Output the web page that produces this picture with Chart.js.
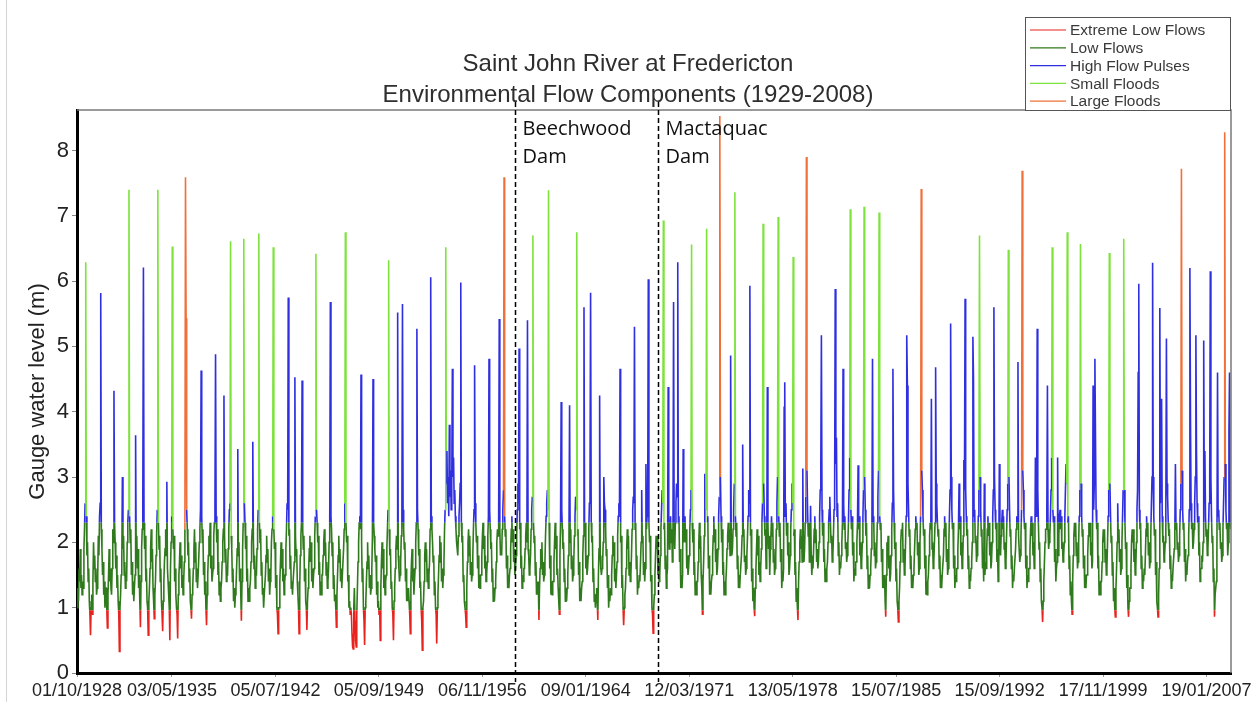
<!DOCTYPE html>
<html>
<head>
<title>Saint John River at Fredericton</title>
<style>
  html, body { margin: 0; padding: 0; background: #fff; }
  .chart-container { position: relative; width: 1257px; height: 702px; }
</style>
</head>
<body>
<div class="chart-container">
<canvas id="mycanvas" width="1257" height="702"></canvas>
</div>

<script src="https://cdn.jsdelivr.net/npm/chart.js@4.4.1/dist/chart.umd.min.js"></script>
<script>
// gauge level (m), one row per water year, half-months Oct..Sep
var wy1929_1938 = [
  [1.0, 1.3, 1.1, 1.6, 1.4, 1.9, 1.3, 1.5, 1.2, 1.4, 1.3, 1.9, 2.2, 2.6, 6.29, 2.4, 1.8, 2.0, 1.4, 1.6, 1.1, 0.9, 0.58, 1.0],
  [1.2, 0.9, 1.4, 2.0, 1.6, 1.8, 1.4, 1.6, 1.2, 1.3, 1.5, 2.1, 1.8, 2.4, 2.6, 5.82, 2.2, 1.9, 1.5, 1.7, 1.2, 1.4, 1.0, 1.3],
  [1.3, 1.0, 0.69, 1.2, 1.5, 1.9, 1.4, 1.6, 1.3, 1.2, 1.6, 2.2, 2.0, 4.32, 2.3, 2.0, 1.6, 1.8, 1.3, 1.5, 1.1, 0.9, 0.33, 1.0],
  [1.2, 1.5, 1.7, 3.0, 1.9, 2.1, 1.5, 1.7, 1.3, 1.5, 1.4, 2.0, 2.3, 2.5, 7.40, 2.4, 2.0, 2.2, 1.5, 1.7, 1.2, 1.4, 1.1, 1.3],
  [1.5, 3.64, 1.8, 2.1, 1.6, 1.9, 1.3, 1.5, 1.1, 0.7, 1.4, 1.9, 2.2, 2.6, 6.21, 2.3, 1.9, 2.1, 1.4, 1.6, 1.1, 1.0, 0.58, 1.1],
  [1.3, 1.6, 1.9, 2.2, 1.7, 1.9, 1.3, 1.1, 0.83, 1.2, 1.4, 1.8, 2.1, 2.5, 7.40, 2.3, 1.9, 2.1, 1.4, 1.6, 1.1, 0.9, 0.64, 1.1],
  [1.4, 1.7, 1.9, 2.2, 1.8, 2.93, 1.6, 1.4, 1.2, 1.0, 0.5, 1.6, 2.0, 2.4, 6.53, 2.2, 1.9, 2.1, 1.4, 1.6, 1.2, 1.0, 0.9, 0.53],
  [1.2, 1.5, 1.7, 2.0, 1.6, 1.8, 1.3, 1.5, 1.2, 1.4, 1.7, 2.2, 7.59, 5.43, 2.5, 2.2, 1.8, 2.0, 1.4, 1.6, 1.1, 1.0, 0.83, 1.2],
  [1.3, 1.6, 1.9, 2.2, 1.7, 2.0, 1.4, 1.6, 1.3, 1.5, 1.5, 2.0, 2.2, 2.5, 4.63, 2.4, 2.0, 2.2, 1.5, 1.7, 1.2, 1.4, 1.0, 0.73],
  [1.2, 1.5, 1.8, 2.1, 1.9, 2.3, 1.6, 1.8, 1.4, 1.5, 1.6, 2.1, 2.3, 2.6, 4.88, 2.4, 2.0, 2.2, 1.5, 1.7, 1.2, 1.4, 1.1, 1.3]
];
var wy1939_1948 = [
  [1.4, 1.7, 2.0, 2.2, 4.25, 2.1, 1.7, 1.9, 1.4, 1.5, 1.5, 1.9, 2.2, 2.5, 2.6, 6.61, 2.1, 1.9, 1.4, 1.6, 1.1, 1.3, 1.0, 1.2],
  [1.3, 1.6, 1.9, 3.43, 1.8, 2.0, 1.4, 1.6, 1.2, 0.8, 1.4, 1.9, 2.3, 6.65, 2.6, 2.3, 1.9, 2.1, 1.4, 1.6, 1.1, 1.3, 1.1, 1.3],
  [1.4, 1.7, 2.0, 2.2, 3.54, 2.0, 1.6, 1.8, 1.3, 1.5, 1.5, 1.9, 2.2, 2.5, 6.73, 2.3, 2.0, 2.2, 1.5, 1.7, 1.2, 1.3, 1.0, 1.2],
  [1.2, 1.5, 1.8, 2.1, 1.7, 1.9, 1.4, 1.6, 1.2, 1.4, 1.5, 2.0, 2.2, 2.4, 6.52, 2.2, 1.9, 2.0, 1.3, 1.5, 1.0, 0.9, 0.6, 1.0],
  [1.0, 1.4, 1.7, 2.0, 1.6, 1.9, 1.4, 1.6, 1.2, 1.4, 1.5, 1.9, 2.2, 2.6, 2.5, 5.75, 2.1, 2.2, 1.6, 1.8, 1.3, 1.4, 1.2, 1.4],
  [1.4, 1.7, 4.53, 2.1, 1.8, 1.9, 1.4, 1.2, 1.0, 0.6, 1.3, 1.8, 2.1, 2.3, 4.48, 2.2, 1.9, 2.1, 1.4, 1.6, 1.1, 1.0, 0.66, 1.1],
  [1.3, 1.6, 1.9, 2.1, 1.7, 2.0, 1.4, 1.6, 1.3, 1.5, 1.6, 2.1, 2.4, 6.42, 2.5, 2.3, 2.0, 2.1, 1.5, 1.7, 1.2, 1.4, 1.2, 1.5],
  [1.5, 1.8, 2.0, 2.2, 1.8, 2.0, 1.5, 1.7, 1.3, 1.4, 1.6, 2.0, 2.3, 5.68, 2.4, 2.2, 1.8, 2.0, 1.3, 1.5, 1.1, 1.2, 1.0, 0.7],
  [1.2, 1.5, 1.8, 2.1, 1.7, 1.9, 1.4, 1.6, 1.3, 1.5, 1.5, 1.9, 2.2, 2.6, 6.75, 2.3, 2.0, 2.1, 1.4, 1.5, 1.0, 1.1, 0.9, 1.0],
  [0.9, 0.6, 0.4, 0.37, 1.0, 1.3, 0.8, 0.5, 0.4, 0.9, 1.3, 1.7, 2.0, 2.3, 2.4, 2.2, 4.57, 2.0, 1.4, 1.6, 1.0, 0.8, 0.43, 1.0]
];
var wy1949_1958 = [
  [1.1, 1.4, 1.7, 2.0, 1.6, 1.8, 1.3, 1.5, 1.2, 1.3, 1.6, 2.1, 4.50, 2.3, 2.1, 1.9, 1.7, 1.8, 1.2, 1.4, 1.0, 1.1, 0.9, 1.0],
  [0.5, 1.3, 1.7, 2.0, 1.6, 1.9, 1.3, 1.5, 1.2, 1.4, 1.5, 1.9, 2.2, 2.5, 6.32, 2.2, 1.8, 1.9, 1.3, 1.4, 1.0, 0.9, 0.5, 1.1],
  [1.3, 1.6, 1.9, 2.1, 1.9, 5.52, 1.8, 1.6, 1.4, 1.5, 1.7, 2.1, 2.4, 5.65, 2.5, 2.2, 1.9, 2.0, 1.4, 1.6, 1.1, 1.3, 1.1, 1.3],
  [1.1, 0.9, 0.6, 1.4, 1.7, 1.9, 1.4, 1.6, 1.2, 1.4, 1.6, 2.0, 2.3, 5.27, 2.5, 2.2, 1.8, 1.9, 1.3, 1.4, 1.0, 0.8, 0.35, 1.0],
  [1.1, 1.4, 1.8, 2.0, 1.7, 1.9, 1.4, 1.6, 1.3, 1.5, 1.7, 2.2, 6.06, 2.4, 2.2, 2.0, 1.7, 1.8, 1.2, 1.4, 1.0, 0.9, 0.45, 1.0],
  [1.2, 1.5, 1.8, 2.1, 1.7, 2.0, 1.4, 1.6, 1.3, 1.5, 1.7, 2.2, 2.5, 6.52, 2.9, 3.4, 2.6, 3.0, 2.4, 3.8, 2.7, 3.1, 2.5, 2.9],
  [4.66, 3.0, 3.3, 2.6, 2.8, 2.4, 2.2, 2.0, 1.9, 1.8, 2.1, 2.4, 2.6, 2.9, 5.98, 2.3, 2.0, 2.1, 1.4, 1.5, 1.1, 1.0, 0.9, 0.7],
  [1.3, 1.7, 2.0, 2.2, 1.8, 2.1, 1.5, 1.7, 1.4, 1.5, 1.8, 2.2, 2.5, 4.71, 2.6, 2.3, 2.0, 2.1, 1.6, 1.8, 1.3, 1.5, 1.3, 1.5],
  [1.5, 1.8, 2.1, 2.3, 1.9, 2.1, 1.6, 1.8, 1.4, 1.5, 1.7, 2.1, 2.4, 4.81, 2.5, 2.2, 1.9, 2.0, 1.4, 1.6, 1.1, 1.3, 1.1, 1.3],
  [1.4, 1.7, 2.0, 2.2, 2.1, 2.3, 5.42, 2.2, 1.8, 1.9, 1.8, 2.2, 2.5, 2.8, 7.59, 2.4, 2.1, 2.2, 1.6, 1.8, 1.3, 1.5, 1.3, 1.5]
];
var wy1959_1968 = [
  [1.6, 1.9, 2.2, 2.4, 2.0, 2.2, 1.7, 1.9, 1.5, 1.6, 1.8, 2.1, 2.5, 2.9, 2.6, 4.97, 2.2, 2.3, 1.6, 1.8, 1.3, 1.5, 1.4, 1.6],
  [1.6, 1.9, 2.1, 2.3, 2.0, 5.40, 1.9, 1.8, 1.5, 1.6, 1.8, 2.2, 2.5, 2.7, 6.70, 2.3, 2.0, 2.1, 1.5, 1.7, 1.2, 1.4, 1.2, 1.4],
  [0.81, 1.3, 1.6, 1.9, 1.8, 2.0, 1.5, 1.7, 1.4, 1.5, 1.7, 2.1, 2.4, 2.6, 2.8, 2.5, 7.39, 2.3, 1.6, 1.8, 1.2, 1.4, 1.2, 1.4],
  [1.4, 1.7, 2.0, 2.3, 1.9, 2.1, 1.5, 1.6, 1.3, 1.1, 0.9, 1.8, 2.3, 4.15, 2.5, 2.2, 1.9, 2.0, 1.4, 1.6, 1.1, 1.3, 1.1, 1.3],
  [1.5, 1.8, 2.1, 4.10, 2.0, 2.2, 1.6, 1.8, 1.4, 1.5, 1.7, 2.1, 2.4, 2.7, 2.5, 6.75, 2.1, 2.2, 1.5, 1.7, 1.1, 1.3, 1.1, 1.3],
  [1.4, 1.8, 2.1, 5.60, 2.2, 2.3, 1.6, 1.8, 1.5, 1.6, 1.8, 2.2, 2.6, 2.9, 5.82, 2.3, 2.0, 2.1, 1.4, 1.6, 1.1, 1.2, 1.0, 1.2],
  [1.3, 1.1, 0.81, 1.5, 1.9, 4.25, 1.8, 1.6, 1.5, 1.6, 1.7, 2.0, 3.0, 2.6, 2.5, 2.2, 1.8, 1.9, 1.3, 1.5, 1.0, 1.2, 1.1, 1.3],
  [1.2, 1.5, 1.8, 2.1, 1.8, 2.0, 1.4, 1.6, 1.3, 1.5, 1.7, 2.1, 2.4, 2.6, 2.5, 4.66, 2.0, 2.1, 1.3, 1.5, 1.0, 0.73, 1.0, 1.2],
  [1.3, 1.6, 1.9, 2.2, 1.9, 2.1, 1.5, 1.7, 1.4, 1.5, 1.8, 2.2, 2.5, 2.7, 2.6, 5.30, 2.2, 2.3, 1.6, 1.8, 1.2, 1.4, 1.3, 1.5],
  [1.4, 1.7, 2.0, 2.8, 2.0, 2.1, 1.5, 1.7, 1.4, 1.6, 3.2, 2.2, 2.4, 2.6, 6.03, 2.3, 2.0, 2.1, 1.4, 1.5, 1.0, 0.9, 0.61, 1.0]
];
var wy1969_1978 = [
  [1.2, 1.5, 1.8, 2.1, 1.9, 2.1, 1.5, 1.7, 1.4, 1.5, 1.8, 2.2, 2.5, 2.8, 2.6, 6.93, 2.2, 2.3, 1.6, 1.8, 1.3, 1.5, 1.6, 4.38],
  [2.3, 1.9, 2.1, 2.4, 2.0, 2.2, 1.7, 1.9, 5.68, 2.2, 1.9, 2.3, 2.6, 2.9, 2.7, 6.29, 2.3, 2.4, 1.7, 1.9, 1.3, 1.5, 1.3, 1.5],
  [3.43, 2.0, 2.1, 2.4, 2.0, 2.2, 1.6, 1.8, 1.5, 1.6, 1.8, 2.2, 2.5, 2.8, 6.56, 2.3, 2.0, 2.2, 1.5, 1.7, 1.2, 1.4, 1.2, 1.4],
  [1.4, 1.7, 2.0, 2.3, 1.9, 2.1, 1.5, 1.3, 0.9, 1.4, 1.7, 2.1, 3.05, 2.6, 2.5, 6.80, 2.3, 2.4, 1.6, 1.8, 1.2, 1.4, 1.2, 1.4],
  [1.5, 1.8, 2.1, 2.4, 2.0, 2.2, 1.7, 1.9, 1.5, 1.6, 1.9, 2.4, 2.7, 8.53, 3.0, 2.4, 2.0, 2.2, 1.5, 1.7, 1.2, 1.4, 1.2, 1.4],
  [1.6, 1.9, 2.1, 2.3, 2.0, 2.2, 1.8, 4.86, 1.9, 1.8, 1.9, 2.2, 2.5, 2.9, 7.36, 2.4, 2.1, 2.3, 1.6, 1.8, 1.3, 1.5, 1.3, 1.5],
  [1.5, 1.8, 2.1, 3.5, 2.1, 2.2, 1.7, 1.8, 1.5, 1.6, 1.8, 2.1, 2.4, 2.8, 2.6, 5.93, 2.1, 2.2, 1.4, 1.6, 1.1, 1.3, 1.0, 0.87],
  [1.3, 1.6, 1.9, 2.2, 1.8, 2.1, 1.5, 1.7, 1.4, 1.6, 1.9, 2.3, 2.6, 6.88, 2.9, 2.4, 2.1, 2.2, 1.6, 1.8, 4.38, 2.3, 1.9, 2.1],
  [1.5, 1.9, 2.1, 2.4, 2.1, 2.3, 1.7, 1.9, 1.5, 1.6, 1.8, 2.2, 2.6, 3.0, 6.98, 2.4, 2.1, 2.3, 1.7, 1.9, 1.3, 1.5, 1.4, 1.6],
  [4.07, 4.45, 2.4, 2.6, 2.1, 2.3, 1.8, 2.0, 1.5, 1.6, 1.8, 2.2, 2.5, 2.9, 2.6, 6.37, 2.1, 2.2, 1.5, 1.7, 1.1, 1.3, 1.0, 0.81]
];
var wy1979_1988 = [
  [1.4, 1.7, 2.0, 2.2, 1.9, 2.1, 1.7, 3.13, 1.8, 1.7, 1.9, 2.3, 2.7, 7.90, 3.1, 2.5, 2.1, 2.3, 1.7, 1.9, 2.56, 1.8, 1.5, 1.7],
  [1.6, 1.9, 2.2, 2.4, 2.0, 2.2, 1.7, 1.9, 1.6, 1.7, 2.0, 2.4, 2.8, 3.2, 5.17, 2.5, 2.1, 2.3, 1.7, 1.9, 1.4, 1.6, 1.4, 1.6],
  [1.7, 2.0, 2.3, 2.5, 2.7, 2.3, 2.0, 2.1, 1.7, 1.8, 2.1, 2.5, 2.8, 5.88, 3.2, 3.6, 2.4, 2.6, 1.8, 2.0, 1.5, 1.7, 1.6, 1.8],
  [2.0, 2.3, 4.66, 2.6, 2.2, 2.4, 1.9, 2.0, 1.7, 1.8, 2.0, 2.3, 2.8, 3.3, 7.10, 2.5, 2.2, 2.4, 1.8, 2.0, 1.4, 1.6, 1.5, 1.7],
  [1.7, 2.0, 2.3, 3.18, 2.2, 2.4, 1.8, 2.0, 1.6, 1.7, 2.0, 2.4, 2.8, 7.14, 3.0, 2.5, 2.1, 2.3, 1.6, 1.8, 1.3, 1.5, 1.3, 1.5],
  [1.6, 1.9, 2.2, 4.81, 2.3, 2.4, 1.8, 2.0, 1.6, 1.7, 1.9, 2.3, 2.7, 3.1, 7.05, 2.4, 2.2, 2.3, 1.7, 1.9, 1.3, 1.5, 1.3, 1.5],
  [1.1, 0.86, 1.5, 2.0, 1.9, 2.1, 1.6, 1.8, 1.4, 1.5, 1.8, 2.2, 2.6, 4.66, 2.8, 2.3, 1.9, 2.0, 1.4, 1.6, 1.1, 1.0, 0.78, 1.1],
  [1.3, 1.7, 2.0, 2.2, 2.1, 2.3, 1.7, 1.9, 1.5, 1.6, 2.0, 2.4, 5.17, 4.4, 2.9, 2.5, 2.1, 2.2, 1.6, 1.8, 1.3, 1.5, 1.3, 1.5],
  [1.6, 1.9, 2.2, 2.4, 2.2, 2.3, 1.8, 2.0, 1.5, 1.6, 2.0, 2.4, 7.41, 3.1, 2.8, 2.4, 2.1, 2.2, 1.6, 1.8, 1.2, 1.4, 1.2, 1.4],
  [1.5, 1.8, 2.1, 2.3, 2.2, 4.2, 1.9, 2.0, 1.6, 1.7, 2.0, 2.3, 4.68, 2.9, 2.6, 2.3, 2.1, 2.2, 1.6, 1.8, 1.3, 1.5, 1.3, 1.5]
];
var wy1989_1998 = [
  [1.5, 1.8, 2.2, 2.4, 2.1, 2.3, 1.7, 1.9, 1.5, 1.6, 2.0, 2.4, 2.8, 5.35, 3.0, 2.5, 2.2, 2.3, 1.6, 1.8, 1.3, 1.5, 1.4, 1.6],
  [1.6, 1.9, 2.2, 2.9, 2.2, 2.4, 1.8, 2.0, 1.6, 1.7, 2.1, 3.26, 2.8, 5.73, 2.8, 2.4, 2.1, 2.2, 1.6, 1.8, 1.3, 1.5, 1.4, 1.6],
  [1.7, 2.0, 5.15, 4.49, 2.4, 2.5, 2.0, 2.1, 1.7, 1.8, 2.0, 2.4, 2.8, 6.70, 3.0, 2.5, 2.1, 2.2, 1.6, 1.8, 1.4, 2.9, 1.5, 1.7],
  [1.6, 1.9, 2.2, 2.4, 2.1, 2.3, 1.8, 2.0, 1.6, 1.7, 2.0, 2.4, 2.8, 5.60, 3.0, 2.5, 2.2, 2.3, 1.7, 1.9, 1.4, 1.6, 3.2, 2.0],
  [1.8, 2.1, 2.3, 2.5, 2.2, 2.4, 1.9, 2.0, 1.6, 1.7, 2.1, 2.5, 2.9, 6.48, 3.0, 2.5, 2.1, 2.2, 1.6, 1.8, 1.3, 1.5, 1.4, 1.6],
  [1.6, 1.9, 2.2, 2.4, 2.3, 4.76, 2.1, 1.9, 1.7, 1.8, 2.1, 2.5, 7.69, 3.1, 2.8, 2.4, 2.2, 2.3, 1.6, 1.8, 1.3, 1.5, 1.4, 1.6],
  [1.6, 1.9, 2.2, 2.4, 2.1, 2.3, 1.8, 2.0, 1.6, 1.7, 3.3, 2.4, 2.7, 5.27, 2.8, 2.3, 1.9, 2.0, 1.4, 1.6, 1.1, 1.0, 0.78, 1.1],
  [1.4, 1.7, 2.0, 2.2, 2.2, 2.4, 4.4, 2.2, 1.9, 2.0, 2.1, 2.4, 2.8, 3.3, 6.52, 2.5, 2.3, 2.4, 1.7, 1.9, 1.4, 1.6, 1.7, 3.3],
  [1.8, 2.1, 2.4, 2.5, 2.2, 2.4, 1.9, 2.0, 1.7, 1.8, 2.0, 2.4, 2.8, 3.2, 2.9, 6.75, 2.3, 2.4, 1.6, 1.8, 1.2, 1.4, 1.1, 0.9],
  [1.4, 1.8, 2.1, 2.3, 2.1, 2.3, 1.8, 2.0, 1.6, 1.7, 2.0, 2.4, 2.8, 6.57, 2.9, 2.4, 2.1, 2.2, 1.6, 1.8, 1.3, 1.5, 1.3, 1.5]
];
var wy1999_2008 = [
  [1.5, 1.8, 2.1, 2.3, 2.1, 2.3, 1.8, 2.0, 1.6, 1.7, 4.4, 2.5, 2.9, 4.81, 3.6, 2.5, 2.2, 2.3, 1.6, 1.8, 1.2, 1.4, 1.2, 1.4],
  [1.4, 1.7, 2.0, 2.2, 2.0, 2.2, 1.7, 1.9, 1.5, 1.6, 2.0, 2.4, 2.8, 6.43, 2.9, 2.4, 2.0, 2.1, 1.5, 1.7, 1.1, 1.3, 1.0, 0.86],
  [1.3, 1.6, 2.0, 2.6, 2.0, 2.2, 1.7, 1.9, 1.5, 1.6, 2.0, 2.4, 2.8, 6.65, 2.8, 2.3, 1.9, 2.0, 1.3, 1.5, 1.0, 0.86, 1.1, 1.3],
  [1.3, 1.6, 2.0, 2.2, 2.0, 2.2, 1.7, 1.9, 1.5, 1.6, 2.0, 2.5, 2.8, 4.6, 5.96, 2.5, 2.2, 2.3, 1.6, 1.8, 1.3, 1.5, 1.4, 1.6],
  [1.5, 1.8, 2.2, 2.4, 2.1, 2.3, 1.8, 2.0, 1.6, 1.7, 2.1, 2.6, 3.0, 6.28, 3.0, 2.4, 2.1, 2.2, 1.5, 1.7, 1.1, 1.0, 0.86, 1.2],
  [1.6, 5.59, 2.6, 3.7, 4.2, 2.4, 2.0, 2.1, 1.7, 1.8, 2.0, 2.5, 5.12, 2.9, 2.7, 2.3, 2.1, 2.2, 1.6, 1.8, 1.3, 1.5, 1.4, 1.6],
  [1.6, 1.9, 2.2, 3.2, 2.2, 2.3, 1.9, 2.0, 1.7, 1.8, 2.1, 2.5, 2.9, 7.72, 3.1, 2.5, 2.2, 2.3, 1.7, 1.9, 1.4, 1.6, 1.5, 1.7],
  [1.8, 2.1, 2.5, 6.20, 3.9, 2.6, 2.2, 2.3, 1.9, 2.0, 2.2, 2.6, 3.0, 5.17, 3.4, 2.6, 2.3, 2.4, 1.8, 2.0, 1.4, 1.6, 1.6, 1.8],
  [1.7, 2.0, 5.09, 2.6, 3.4, 2.4, 2.1, 2.2, 1.8, 1.9, 2.2, 2.6, 3.0, 6.15, 3.0, 2.4, 2.0, 2.1, 1.4, 1.6, 0.86, 1.2, 1.2, 1.4],
  [1.8, 4.6, 2.4, 2.5, 2.2, 2.3, 1.9, 2.0, 1.7, 1.8, 2.2, 2.6, 3.0, 8.28, 3.2, 2.5, 2.2, 2.3, 1.8, 2.0, 3.7, 4.6, 2.4, 2.2]
];

// water years whose annual peak is a flood event
var smallFloodYears = [1929, 1932, 1934, 1935, 1939, 1940, 1941, 1942, 1945, 1947, 1950, 1954,
  1960, 1961, 1963, 1969, 1971, 1972, 1974, 1976, 1977, 1978, 1982, 1983, 1984, 1991, 1993,
  1996, 1997, 1998, 2000, 2001];
var largeFloodYears = [1936, 1958, 1973, 1979, 1987, 1994, 2005, 2008];

var tickLabels = ['01/10/1928', '03/05/1935', '05/07/1942', '05/09/1949', '06/11/1956', '09/01/1964',
  '12/03/1971', '13/05/1978', '15/07/1985', '15/09/1992', '17/11/1999', '19/01/2007'];
var axisEnd = '30/09/2008';
var damNames = [['Beechwood', 'Dam'], ['Mactaquac', 'Dam']];
var damDates = ['15/02/1959', '10/01/1969'];

var titleLines = ['Saint John River at Fredericton', 'Environmental Flow Components (1929-2008)'];
var componentNames = ['Extreme Low Flows', 'Low Flows', 'High Flow Pulses', 'Small Floods', 'Large Floods'];
var componentColors = ['#e8231e', '#2f7a1c', '#2f2fe0', '#7de33c', '#f0703a'];
var lowThreshold = 0.96, highThreshold = 2.3;

var SANS = '"Liberation Sans", Arial, sans-serif';

function toDay(s) {
  var p = s.split('/');
  return Math.round((Date.UTC(+p[2], +p[1] - 1, +p[0]) - Date.UTC(1928, 9, 1)) / 86400000);
}

var allYears = [].concat(wy1929_1938, wy1939_1948, wy1949_1958, wy1959_1968,
  wy1969_1978, wy1979_1988, wy1989_1998, wy1999_2008);

var pts = [], cls = [];
allYears.forEach(function(row, k) {
  var wy = 1929 + k;
  var iMax = row.indexOf(Math.max.apply(null, row));
  var fc = largeFloodYears.indexOf(wy) >= 0 ? 'L' : (smallFloodYears.indexOf(wy) >= 0 ? 'S' : null);
  row.forEach(function(v, h) {
    pts.push({x: Math.round((k * 24 + h + 0.5) * 15.21875), y: v});
    cls.push(fc && (h === iMax || (Math.abs(h - iMax) === 1 && v > 4)) ? fc : null);
  });
});

function segColor(base) {
  return function(ctx) {
    var f = cls[ctx.p0DataIndex] || cls[ctx.p1DataIndex];
    if (f === 'L') return componentColors[4];
    if (f === 'S') return componentColors[3];
    return base;
  };
}

function layer(label, color, band) {
  return {
    label: label,
    data: pts.map(function(p) { return {x: p.x, y: p.y}; }),
    borderColor: color,
    borderWidth: 1.6,
    pointRadius: 0,
    tension: 0,
    fill: false,
    band: band,
    segment: { borderColor: segColor(color) }
  };
}

// each layer only shows inside its level band [low, high]
var bandClip = {
  id: 'bandClip',
  beforeDatasetDraw: function(chart, args) {
    var band = chart.data.datasets[args.index].band;
    var y = chart.scales.y, a = chart.chartArea, ctx = chart.ctx;
    var top = band[1] === null ? a.top - 4 : y.getPixelForValue(band[1]);
    var bottom = band[0] === null ? a.bottom + 4 : y.getPixelForValue(band[0]);
    ctx.save();
    ctx.beginPath();
    ctx.rect(a.left - 2, top, a.right - a.left + 4, bottom - top);
    ctx.clip();
  },
  afterDatasetDraw: function(chart) {
    chart.ctx.restore();
  }
};

var decor = {
  id: 'decor',
  afterDraw: function(chart) {
    var ctx = chart.ctx, a = chart.chartArea, xs = chart.scales.x;
    ctx.save();
    ctx.strokeStyle = '#d4d4d4';
    ctx.lineWidth = 1;
    ctx.beginPath(); ctx.moveTo(6.5, 0); ctx.lineTo(6.5, 702); ctx.stroke();

    ctx.strokeStyle = '#7a7a7a';
    ctx.lineWidth = 1.5;
    ctx.beginPath();
    ctx.moveTo(a.left, a.top); ctx.lineTo(a.right, a.top); ctx.lineTo(a.right, a.bottom);
    ctx.stroke();

    ctx.fillStyle = '#2e2e2e';
    ctx.font = '24px ' + SANS;
    ctx.textAlign = 'center';
    ctx.textBaseline = 'alphabetic';
    ctx.fillText(titleLines[0], 628, 71);
    ctx.fillText(titleLines[1], 628, 102);

    ctx.setLineDash([5, 3]);
    ctx.strokeStyle = '#000';
    ctx.lineWidth = 1.5;
    damDates.forEach(function(d, i) {
      var px = Math.round(xs.getPixelForValue(toDay(d))) + 0.5;
      ctx.beginPath(); ctx.moveTo(px, a.top - 8); ctx.lineTo(px, a.bottom + 9); ctx.stroke();
      ctx.fillStyle = '#111';
      ctx.font = '20px "Open Sans", "Noto Sans", sans-serif';
      ctx.textAlign = 'left';
      ctx.fillText(damNames[i][0], px + 7, a.top + 25);
      ctx.fillText(damNames[i][1], px + 7, a.top + 53);
    });
    ctx.setLineDash([]);

    // legend box
    var lx = 1025.5, ly = 17.5, lw = 205, lh = 93;
    ctx.fillStyle = '#fff';
    ctx.fillRect(lx, ly, lw, lh);
    ctx.strokeStyle = '#555';
    ctx.lineWidth = 1;
    ctx.strokeRect(lx, ly, lw, lh);
    ctx.font = '15.5px ' + SANS;
    ctx.textAlign = 'left';
    ctx.textBaseline = 'middle';
    componentNames.forEach(function(name, i) {
      var yy = 30 + i * 17.8;
      ctx.strokeStyle = componentColors[i];
      ctx.lineWidth = 1.2;
      ctx.beginPath(); ctx.moveTo(1030, yy); ctx.lineTo(1066, yy); ctx.stroke();
      ctx.fillStyle = '#3a3a3a';
      ctx.fillText(name, 1070, yy + 1);
    });
    ctx.restore();
  }
};

var tickDays = tickLabels.map(toDay);

new Chart(document.getElementById('mycanvas'), {
  type: 'line',
  data: {
    datasets: [
      layer(componentNames[0], componentColors[0], [null, lowThreshold]),
      layer(componentNames[1], componentColors[1], [lowThreshold, highThreshold]),
      layer(componentNames[2], componentColors[2], [highThreshold, null])
    ]
  },
  options: {
    responsive: false,
    animation: false,
    layout: { padding: { top: 110, right: 26, left: 0, bottom: 0 } },
    plugins: { legend: { display: false }, title: { display: false }, tooltip: { enabled: false } },
    scales: {
      x: {
        type: 'linear',
        min: 0,
        max: toDay(axisEnd),
        afterBuildTicks: function(s) { s.ticks = tickDays.map(function(v) { return {value: v}; }); },
        afterFit: function(s) { s.height = 29; s.paddingLeft = 0; s.paddingRight = 0; },
        border: { display: true, color: '#000', width: 3 },
        grid: { drawOnChartArea: false, drawTicks: true, tickLength: 4, color: '#999' },
        ticks: {
          autoSkip: false, maxRotation: 0, minRotation: 0, padding: 3,
          color: '#222', font: { family: SANS, size: 18 },
          callback: function(v, i) { return tickLabels[i]; }
        }
      },
      y: {
        min: 0,
        max: 8.62,
        afterFit: function(s) { s.width = 77; s.paddingTop = 0; s.paddingBottom = 0; },
        border: { display: true, color: '#000', width: 3 },
        grid: { drawOnChartArea: false, drawTicks: true, tickLength: 5, color: '#888' },
        ticks: { stepSize: 1, includeBounds: false, padding: 3, color: '#222', font: { family: SANS, size: 22 } },
        title: {
          display: true, text: 'Gauge water level (m)', color: '#222',
          font: { family: SANS, size: 22 }, padding: { top: 25, bottom: 0 }
        }
      }
    }
  },
  plugins: [bandClip, decor]
});
</script>
</body>
</html>
